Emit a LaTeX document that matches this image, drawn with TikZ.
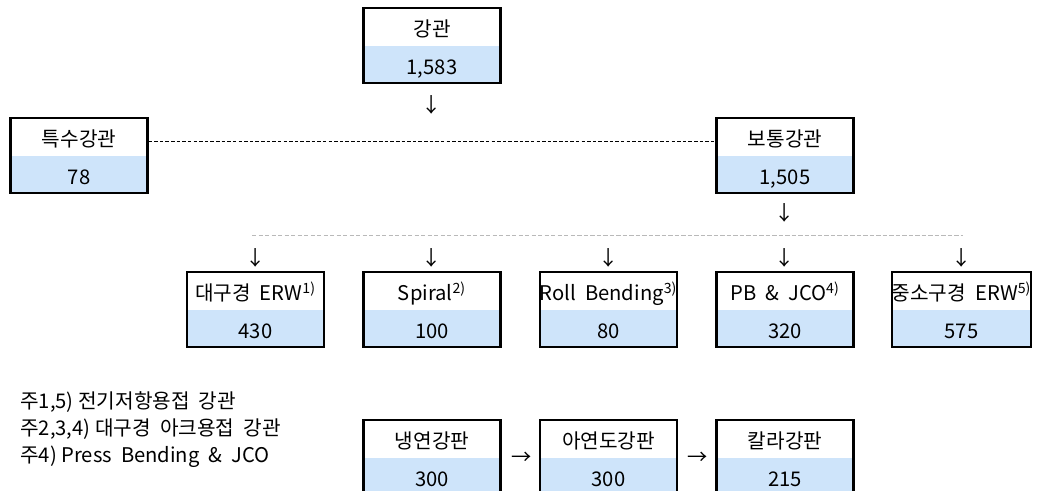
\documentclass[tikz,border=0pt]{standalone}
\usepackage{fontspec}
\setmainfont{Noto Sans CJK KR}
\usetikzlibrary{shapes.multipart}
\usetikzlibrary{calc}
\definecolor{cellblue}{RGB}{206,228,250}
\definecolor{dashgray}{RGB}{185,185,185}
\newcommand{\cst}{\rule[-0.15cm]{0pt}{0.71cm}}

\begin{document}
\begin{tikzpicture}[
  cell/.style={rectangle split, rectangle split parts=2, rectangle split draw splits=false,
    rectangle split part fill={white,cellblue}, draw, line width=1.2pt,
    minimum width=2.74cm, inner xsep=0pt, inner ysep=0pt,
    font=\fontsize{11.5}{14}\selectfont},
  glyph/.style={inner sep=0pt, font=\fontsize{11.5}{14}\selectfont},
  note/.style={anchor=west, inner sep=0pt, font=\fontsize{11.5}{14}\selectfont}]
\useasboundingbox (0,0) rectangle (20.76,-9.8);
\node [cell] (b0) at (8.64,-0.91) {\cst 강관 \nodepart{two} \cst 1,583};
\node [cell] (b1) at (1.58,-3.11) {\cst 특수강관 \nodepart{two} \cst 78};
\node [cell] (b2) at (15.70,-3.11) {\cst 보통강관 \nodepart{two} \cst 1,505};
\node [cell] (r1) at (5.11,-6.19) {\cst 대구경 \ ERW\textsuperscript{1)} \nodepart{two} \cst 430};
\node [cell] (r2) at (8.64,-6.19) {\cst Spiral\textsuperscript{2)} \nodepart{two} \cst 100};
\node [cell] (r3) at (12.17,-6.19) {\cst Roll \ Bending\textsuperscript{3)} \nodepart{two} \cst 80};
\node [cell] (r4) at (15.70,-6.19) {\cst PB \ \& \ JCO\textsuperscript{4)} \nodepart{two} \cst 320};
\node [cell] (r5) at (19.23,-6.19) {\cst 중소구경 \ ERW\textsuperscript{5)} \nodepart{two} \cst 575};
\node [cell] (p1) at (8.64,-9.15) {\cst 냉연강판 \nodepart{two} \cst 300};
\node [cell] (p2) at (12.17,-9.15) {\cst 아연도강판 \nodepart{two} \cst 300};
\node [cell] (p3) at (15.70,-9.15) {\cst 칼라강판 \nodepart{two} \cst 215};
\node [glyph] (a0) at (8.64,-2.1) {↓};
\node [glyph] (a1) at (15.70,-4.26) {↓};
\node [glyph] (a2) at (5.11,-5.16) {↓};
\node [glyph] (a3) at (8.64,-5.16) {↓};
\node [glyph] (a4) at (12.17,-5.16) {↓};
\node [glyph] (a5) at (15.70,-5.16) {↓};
\node [glyph] (a6) at (19.23,-5.16) {↓};
\node [glyph] (a7) at (10.44,-9.16) {→};
\node [glyph] (a8) at (13.96,-9.16) {→};
\node [note] (n1) at (0.4,-8.04) {주1,5) 전기저항용접 \ 강관};
\node [note] (n2) at (0.4,-8.58) {주2,3,4) 대구경 \ 아크용접 \ 강관};
\node [note] (n3) at (0.4,-9.14) {주4) Press \ Bending \ \& \ JCO};
\coordinate (g1) at (5.04,-4.7);
\coordinate (g2) at (19.26,-4.7);
\draw [line width=0.5pt, dash pattern=on 2pt off 1.2pt] ($(b1.north east)!0.32!(b1.south east)$) -- ($(b2.north west)!0.32!(b2.south west)$);
\draw [dashgray, line width=0.5pt, dash pattern=on 2.5pt off 1.2pt] (g1) -- (g2);
\end{tikzpicture}
\end{document}
